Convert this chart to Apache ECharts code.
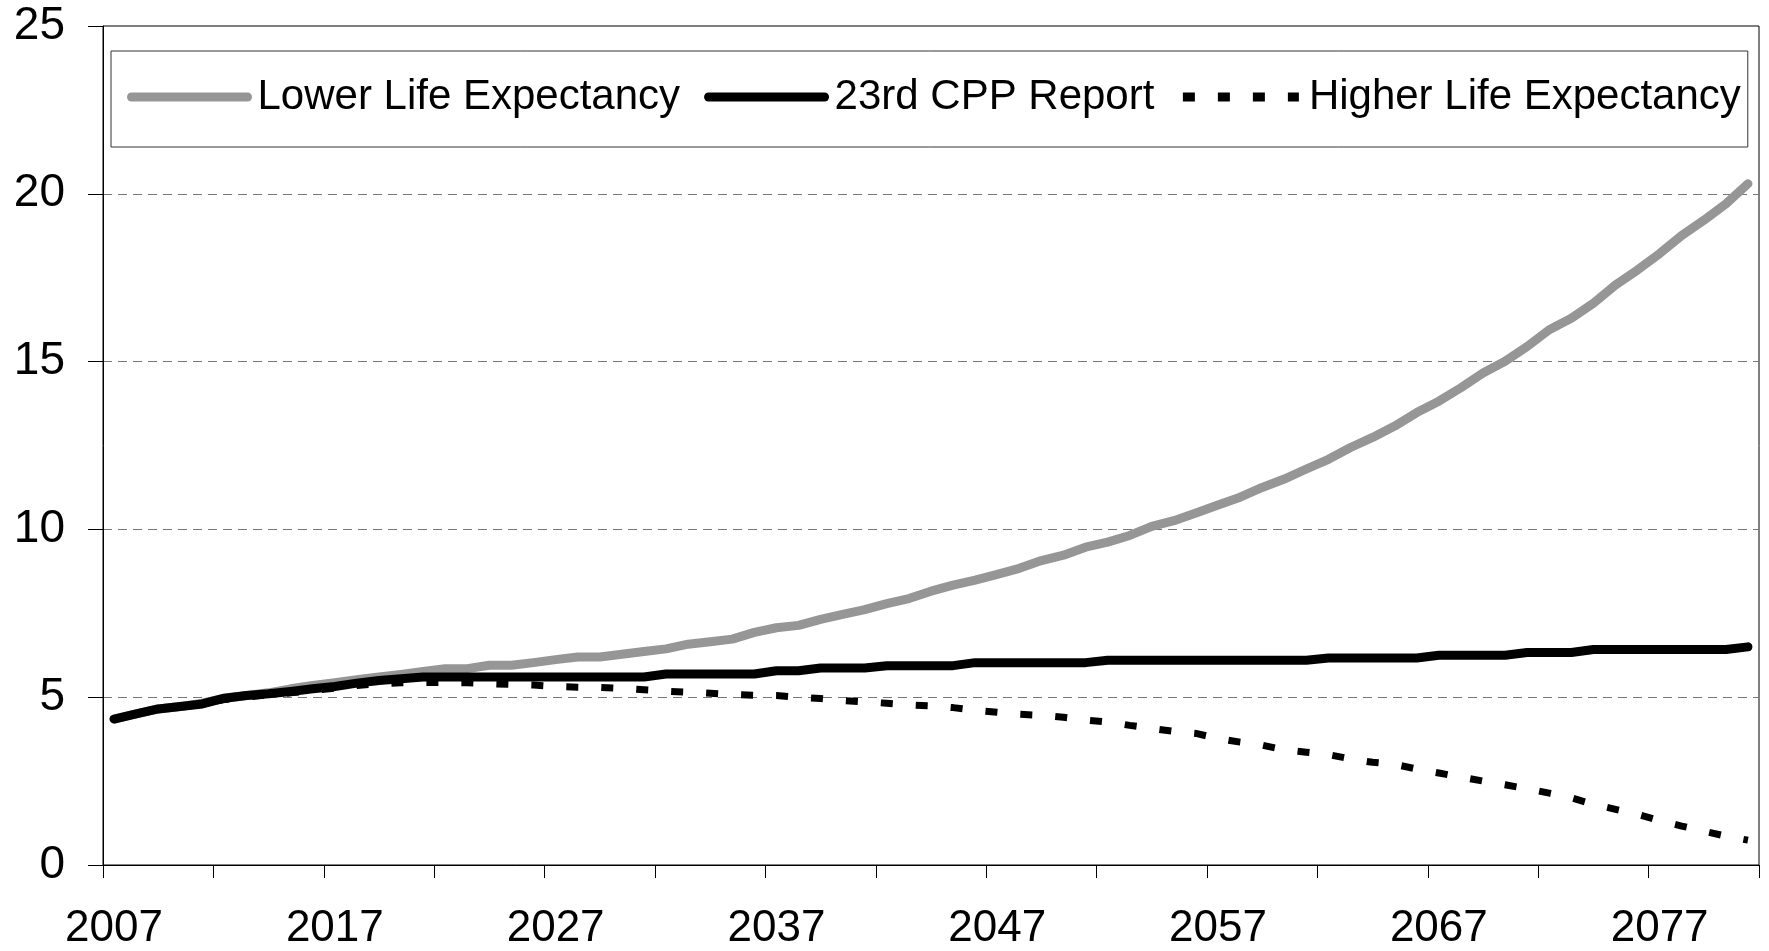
<!DOCTYPE html>
<html>
<head>
<meta charset="utf-8">
<title>Life expectancy scenarios</title>
<script src="https://cdn.jsdelivr.net/npm/echarts@6/dist/echarts.min.js"></script>
<style>
  html, body { margin: 0; padding: 0; background: #fff; }
  #chart { width: 1769px; height: 951px; }
</style>
</head>
<body>
<div id="chart"></div>
<script>
// categories
const years = [
  '2007', '2008', '2009', '2010', '2011', '2012', '2013', '2014', '2015', '2016',
  '2017', '2018', '2019', '2020', '2021', '2022', '2023', '2024', '2025', '2026',
  '2027', '2028', '2029', '2030', '2031', '2032', '2033', '2034', '2035', '2036',
  '2037', '2038', '2039', '2040', '2041', '2042', '2043', '2044', '2045', '2046',
  '2047', '2048', '2049', '2050', '2051', '2052', '2053', '2054', '2055', '2056',
  '2057', '2058', '2059', '2060', '2061', '2062', '2063', '2064', '2065', '2066',
  '2067', '2068', '2069', '2070', '2071', '2072', '2073', '2074', '2075', '2076',
  '2077', '2078', '2079', '2080', '2081'
]

// series values
const lowerLifeExpectancy = [
  4.35, 4.50, 4.65, 4.72, 4.82, 4.97, 5.05, 5.13, 5.25, 5.35,
  5.43, 5.52, 5.60, 5.68, 5.77, 5.85, 5.85, 5.95, 5.95, 6.03,
  6.12, 6.20, 6.20, 6.28, 6.36, 6.44, 6.58, 6.65, 6.73, 6.93,
  7.07, 7.14, 7.32, 7.47, 7.61, 7.79, 7.94, 8.16, 8.34, 8.49,
  8.66, 8.84, 9.07, 9.23, 9.47, 9.62, 9.82, 10.09, 10.26, 10.49,
  10.73, 10.96, 11.25, 11.50, 11.80, 12.09, 12.44, 12.74, 13.08, 13.48,
  13.82, 14.22, 14.66, 15.01, 15.45, 15.95, 16.29, 16.74, 17.28, 17.73,
  18.22, 18.76, 19.21, 19.70, 20.30
]

const cppReport23 = [
  4.35, 4.50, 4.65, 4.72, 4.80, 4.97, 5.05, 5.10, 5.17, 5.25,
  5.32, 5.42, 5.50, 5.55, 5.60, 5.60, 5.60, 5.60, 5.60, 5.60,
  5.60, 5.60, 5.60, 5.60, 5.60, 5.69, 5.69, 5.69, 5.69, 5.69,
  5.79, 5.79, 5.87, 5.87, 5.87, 5.94, 5.94, 5.94, 5.94, 6.03,
  6.03, 6.03, 6.03, 6.03, 6.03, 6.10, 6.10, 6.10, 6.10, 6.10,
  6.10, 6.10, 6.10, 6.10, 6.10, 6.17, 6.17, 6.17, 6.17, 6.17,
  6.25, 6.25, 6.25, 6.25, 6.33, 6.33, 6.33, 6.42, 6.42, 6.42,
  6.42, 6.42, 6.42, 6.42, 6.50
]

const higherLifeExpectancy = [
  4.35, 4.50, 4.65, 4.72, 4.82, 4.93, 5.00, 5.07, 5.13, 5.20,
  5.27, 5.35, 5.40, 5.43, 5.44, 5.44, 5.43, 5.40, 5.38, 5.36,
  5.32, 5.30, 5.29, 5.26, 5.22, 5.18, 5.15, 5.12, 5.08, 5.06,
  5.05, 5.00, 4.96, 4.90, 4.86, 4.82, 4.77, 4.74, 4.69, 4.61,
  4.55, 4.49, 4.46, 4.40, 4.32, 4.26, 4.16, 4.07, 3.98, 3.92,
  3.77, 3.66, 3.57, 3.43, 3.36, 3.29, 3.16, 3.06, 3.00, 2.86,
  2.74, 2.62, 2.50, 2.39, 2.27, 2.14, 2.00, 1.81, 1.66, 1.51,
  1.32, 1.16, 1.01, 0.86, 0.74
]

// y axis ticks
const yMin = 0
const yMax = 25
const yStep = 5

const FONT = '"Liberation Sans", Arial, Helvetica, sans-serif'

const chart = echarts.init(document.getElementById('chart'), null, { renderer: 'canvas' })

const option = {
  animation: false,
  backgroundColor: '#fff',
  grid: {
    left: 103,
    right: 10,
    top: 26,
    bottom: 83,
    show: true,
    borderColor: '#000',
    borderWidth: 1,
    containLabel: false
  },
  legend: {
    left: 111,
    top: 51,
    orient: 'horizontal',
    itemWidth: 116,
    itemHeight: 14,
    itemGap: 24,
    padding: [25, 7, 29, 16],
    borderColor: '#333',
    borderWidth: 1,
    // hide the marker dot, keep only the line
    itemStyle: {
      opacity: 0,
      borderWidth: 0
    },
    lineStyle: {
      width: 9
    },
    textStyle: {
      fontFamily: FONT,
      fontSize: 42,
      color: '#000',
      padding: [0, 0, 0, 5]
    },
    data: ['Lower Life Expectancy', '23rd CPP Report', 'Higher Life Expectancy']
  },
  xAxis: [
    {
      type: 'category',
      data: years,
      boundaryGap: true,
      axisLine: {
        lineStyle: { color: '#000', width: 1 }
      },
      axisTick: { show: false },
      axisLabel: {
        interval: 9,
        margin: 42,
        fontFamily: FONT,
        fontSize: 44,
        color: '#000'
      },
      splitLine: { show: false }
    },
    {
      // tick marks every 5 years, on the category boundaries
      type: 'value',
      position: 'bottom',
      min: 0,
      max: years.length,
      interval: 5,
      axisLine: { show: false },
      axisTick: {
        show: true,
        length: 13,
        lineStyle: { color: '#000', width: 1 }
      },
      axisLabel: { show: false },
      splitLine: { show: false }
    }
  ],
  yAxis: {
    type: 'value',
    min: yMin,
    max: yMax,
    interval: yStep,
    axisLine: {
      show: true,
      lineStyle: { color: '#000', width: 1 }
    },
    axisTick: {
      show: true,
      length: 15,
      lineStyle: { color: '#000', width: 1 }
    },
    axisLabel: {
      margin: 38,
      fontFamily: FONT,
      fontSize: 46,
      color: '#000'
    },
    splitLine: {
      show: true,
      showMinLine: false,
      showMaxLine: false,
      lineStyle: {
        color: '#777',
        width: 1,
        type: [9, 6]
      }
    }
  },
  series: [
    {
      name: 'Lower Life Expectancy',
      type: 'line',
      xAxisIndex: 0,
      data: lowerLifeExpectancy,
      symbol: 'none',
      lineStyle: {
        color: '#969696',
        width: 9,
        cap: 'round',
        join: 'round'
      },
      itemStyle: { color: '#969696' }
    },
    {
      name: '23rd CPP Report',
      type: 'line',
      xAxisIndex: 0,
      data: cppReport23,
      symbol: 'none',
      lineStyle: {
        color: '#000',
        width: 9,
        cap: 'round',
        join: 'round'
      },
      itemStyle: { color: '#000' }
    },
    {
      name: 'Higher Life Expectancy',
      type: 'line',
      xAxisIndex: 0,
      data: higherLifeExpectancy,
      symbol: 'none',
      lineStyle: {
        color: '#000',
        width: 7,
        type: [12, 23],
        cap: 'butt'
      },
      itemStyle: { color: '#000' }
    }
  ]
}

chart.setOption(option)

window.addEventListener('resize', () => {
  chart.resize()
})
</script>
</body>
</html>
